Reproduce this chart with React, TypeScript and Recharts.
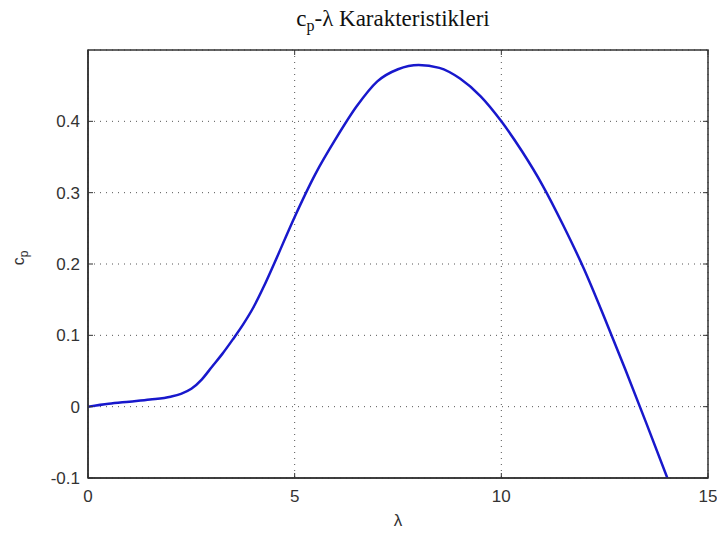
import { LineChart, Line, XAxis, YAxis, CartesianGrid, ReferenceArea } from "recharts";

// tip speed ratio (λ) and power coefficient (cp)
const lambdaValues = [
  0, 0.5, 1, 1.5, 2, 2.25, 2.5, 2.75, 3, 3.25, 3.5, 3.75, 4, 4.25, 4.5, 5, 5.5,
  6, 6.5, 7, 7.5, 8, 8.5, 9, 9.5, 10, 10.5, 11, 11.5, 12, 12.5, 13, 13.5, 14.03,
];
const cpValues = [
  0, 0.004, 0.007, 0.01, 0.014, 0.018, 0.025, 0.038, 0.056, 0.074, 0.094,
  0.115, 0.139, 0.168, 0.2, 0.266, 0.326, 0.376, 0.421, 0.456, 0.473, 0.479,
  0.475, 0.46, 0.435, 0.4, 0.358, 0.31, 0.254, 0.193, 0.124, 0.052, -0.022,
  -0.102,
];
const xTicks = [0, 5, 10, 15];
const yTicks = [-0.1, 0, 0.1, 0.2, 0.3, 0.4];

const chartData = lambdaValues.map((l, i) => ({ lambda: l, cp: cpValues[i] }));

const W = 717;
const H = 533;
const PLOT_LEFT = 88;
const PLOT_RIGHT = 708;
const PLOT_TOP = 50;
const PLOT_BOTTOM = 478;
const AXIS_COLOR = "#333";
const TICK_FONT = "'Liberation Sans', Arial, sans-serif";

function XTick(props: any) {
  const { x, payload } = props;
  return (
    <g>
      <line x1={x} x2={x} y1={PLOT_BOTTOM} y2={PLOT_BOTTOM - 5} stroke={AXIS_COLOR} />
      <line x1={x} x2={x} y1={PLOT_TOP} y2={PLOT_TOP + 5} stroke={AXIS_COLOR} />
      <text
        x={x}
        y={PLOT_BOTTOM + 24}
        textAnchor="middle"
        fontFamily={TICK_FONT}
        fontSize={17}
        fill="#333"
      >
        {payload.value}
      </text>
    </g>
  );
}

function YTick(props: any) {
  const { y, payload } = props;
  return (
    <g>
      <line x1={PLOT_LEFT} x2={PLOT_LEFT + 5} y1={y} y2={y} stroke={AXIS_COLOR} />
      <line x1={PLOT_RIGHT} x2={PLOT_RIGHT - 5} y1={y} y2={y} stroke={AXIS_COLOR} />
      <text
        x={PLOT_LEFT - 8}
        y={y}
        dy={6}
        textAnchor="end"
        fontFamily={TICK_FONT}
        fontSize={17}
        fill="#333"
      >
        {payload.value === 0 ? "0" : String(payload.value)}
      </text>
    </g>
  );
}

export default function App() {
  return (
    <div style={{ position: "absolute", top: 0, left: 0, width: W, height: H, background: "#fff" }}>
      <LineChart
        width={W}
        height={H}
        data={chartData}
        margin={{ top: PLOT_TOP, right: W - PLOT_RIGHT, bottom: 25, left: 28 }}
      >
        <CartesianGrid stroke="#555" strokeDasharray="1 5" />
        <XAxis
          dataKey="lambda"
          type="number"
          domain={[0, 15]}
          ticks={xTicks}
          height={30}
          tickLine={false}
          tick={<XTick />}
          axisLine={{ stroke: AXIS_COLOR, strokeWidth: 1.5 }}
          allowDataOverflow
        />
        <YAxis
          type="number"
          domain={[-0.1, 0.5]}
          ticks={yTicks}
          width={60}
          tickLine={false}
          tick={<YTick />}
          axisLine={{ stroke: AXIS_COLOR, strokeWidth: 1.5 }}
          allowDataOverflow
        />
        <ReferenceArea
          x1={0}
          x2={15}
          y1={-0.1}
          y2={0.5}
          fill="none"
          stroke={AXIS_COLOR}
          strokeWidth={1.5}
        />
        <Line
          type="monotone"
          dataKey="cp"
          stroke="#1818cc"
          strokeWidth={2.5}
          dot={false}
          isAnimationActive={false}
        />
      </LineChart>
      <svg
        width={W}
        height={H}
        style={{ position: "absolute", top: 0, left: 0, pointerEvents: "none" }}
      >
        <text
          x={393}
          y={26}
          textAnchor="middle"
          fontFamily="'Liberation Serif', 'Times New Roman', serif"
          fontSize={23}
          fill="#111"
        >
          c
          <tspan fontSize={16} dy={5}>p</tspan>
          <tspan dy={-5}>-λ Karakteristikleri</tspan>
        </text>
        <text
          transform="translate(24, 258) rotate(-90)"
          textAnchor="middle"
          fontFamily={TICK_FONT}
          fontSize={16}
          fill="#333"
        >
          c
          <tspan fontSize={12} dy={4}>p</tspan>
        </text>
        <text
          x={398}
          y={526}
          textAnchor="middle"
          fontFamily={TICK_FONT}
          fontSize={17}
          fill="#333"
        >
          λ
        </text>
      </svg>
    </div>
  );
}
